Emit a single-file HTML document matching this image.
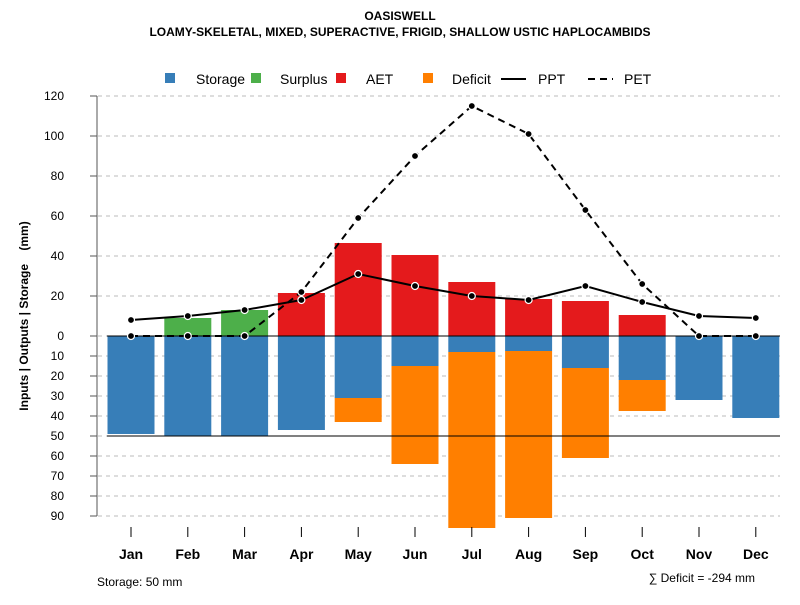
<!DOCTYPE html>
<html><head><meta charset="utf-8"><style>
body{margin:0;background:#fff}
svg{font-family:"Liberation Sans",sans-serif}
</style></head><body>
<svg id="c" width="800" height="600" xmlns="http://www.w3.org/2000/svg">
<text x="400" y="20" text-anchor="middle" font-size="12" font-weight="bold">OASISWELL</text>
<text x="400" y="36" text-anchor="middle" font-size="12" font-weight="bold">LOAMY-SKELETAL, MIXED, SUPERACTIVE, FRIGID, SHALLOW USTIC HAPLOCAMBIDS</text>
<g id="legend" font-size="14">
<g><rect x="165" y="73" width="10" height="10" fill="#377eb8"/><text x="196" y="84">Storage</text></g>
<g><rect x="251" y="73" width="10" height="10" fill="#4daf4a"/><text x="280" y="84">Surplus</text></g>
<g><rect x="336" y="73" width="10" height="10" fill="#e41a1c"/><text x="366" y="84">AET</text></g>
<g><rect x="423" y="73" width="10" height="10" fill="#ff7f00"/><text x="452" y="84">Deficit</text></g>
<g><line x1="501" y1="79" x2="526" y2="79" stroke="#000" stroke-width="2"/><text x="538" y="84">PPT</text></g>
<g><line x1="588" y1="79" x2="613" y2="79" stroke="#000" stroke-width="2" stroke-dasharray="7,5"/><text x="624" y="84">PET</text></g>
</g>
<text xml:space="preserve" transform="translate(28,316) rotate(-90)" text-anchor="middle" font-size="12" font-weight="bold">Inputs | Outputs | Storage    (mm)</text>
<g id="grid"></g><g id="bars"></g><g id="lines"></g><g id="axes"></g>
<text x="97" y="586" font-size="12">Storage: 50 mm</text>
<text x="755" y="582" text-anchor="end" font-size="12">∑ Deficit = -294 mm</text>
</svg>
<script>
const months=["Jan","Feb","Mar","Apr","May","Jun","Jul","Aug","Sep","Oct","Nov","Dec"];
const storage=[49,50,50,47,31,15,8,7.5,16,22,32,41];
const surplus=[0,9,13,0,0,0,0,0,0,0,0,0];
const aet=[0,0,0,21.5,46.5,40.5,27,18.5,17.5,10.5,0,0];
const deficit=[0,0,0,0,12,49,88,83.5,45,15.5,0,0];
const ppt=[8,10,13,18,31,25,20,18,25,17,10,9];
const pet=[0,0,0,22,59,90,115,101,63,26,0,0];
const posTicks=[0,20,40,60,80,100,120];
const negTicks=[10,20,30,40,50,60,70,80,90];
const NS="http://www.w3.org/2000/svg";
const y=v=>336-2*v;
const x=i=>131+i*56.8;
const bw=47;
function el(p,t,a){const e=document.createElementNS(NS,t);for(const k in a)e.setAttribute(k,a[k]);document.getElementById(p).appendChild(e);return e;}
[...posTicks,...negTicks.map(v=>-v)].forEach(v=>{
 const g=el("grid","line",{x1:98,x2:780,y1:y(v),y2:y(v),stroke:"#bbb","stroke-dasharray":"4,4"});
 
 
 const t=el("axes","line",{x1:90,x2:97,y1:y(v),y2:y(v),stroke:"#555"});
 
 
 const l=el("axes","text",{x:64,y:y(v)+4,"text-anchor":"end","font-size":12});
 l.textContent=Math.abs(v);
 
 
});
months.forEach((m,i)=>{
 const cx=x(i),x0=cx-bw/2;
 function bar(v0,v1,c,n){if(v1===v0)return;const r=el("bars","rect",{x:x0,width:bw,y:Math.min(y(v0),y(v1)),height:Math.abs(y(v1)-y(v0)),fill:c});
  
  }
 bar(0,-storage[i],"#377eb8","bar-storage-"+m.toLowerCase());
 bar(-storage[i],-storage[i]-deficit[i],"#ff7f00","bar-deficit-"+m.toLowerCase());
 bar(0,surplus[i],"#4daf4a","bar-surplus-"+m.toLowerCase());
 bar(0,aet[i],"#e41a1c","bar-aet-"+m.toLowerCase());
 const t=el("axes","line",{x1:cx,x2:cx,y1:527,y2:537,stroke:"#000"});
 
 
 const l=el("axes","text",{x:cx,y:559,"text-anchor":"middle","font-size":14,"font-weight":"bold"});
 l.textContent=m;
 
 
});
const z=el("lines","line",{x1:107,x2:780,y1:y(0),y2:y(0),stroke:"#000"});


const cap=el("lines","line",{x1:107,x2:780,y1:y(-50),y2:y(-50),stroke:"#000"});


function series(d,dash,n){
 const p=el("lines","polyline",{points:d.map((v,i)=>x(i)+","+y(v)).join(" "),fill:"none",stroke:"#000","stroke-width":2,"stroke-dasharray":dash});
 
 
 d.forEach((v,i)=>{const c=el("lines","circle",{cx:x(i),cy:y(v),r:3.5,fill:"#000",stroke:"#fff","stroke-width":1.2});
  
  });
}
series(pet,"7,5","pet");
series(ppt,"none","ppt");
const ax=el("axes","line",{x1:97,x2:97,y1:96,y2:516,stroke:"#555"});


</script>
</body></html>
